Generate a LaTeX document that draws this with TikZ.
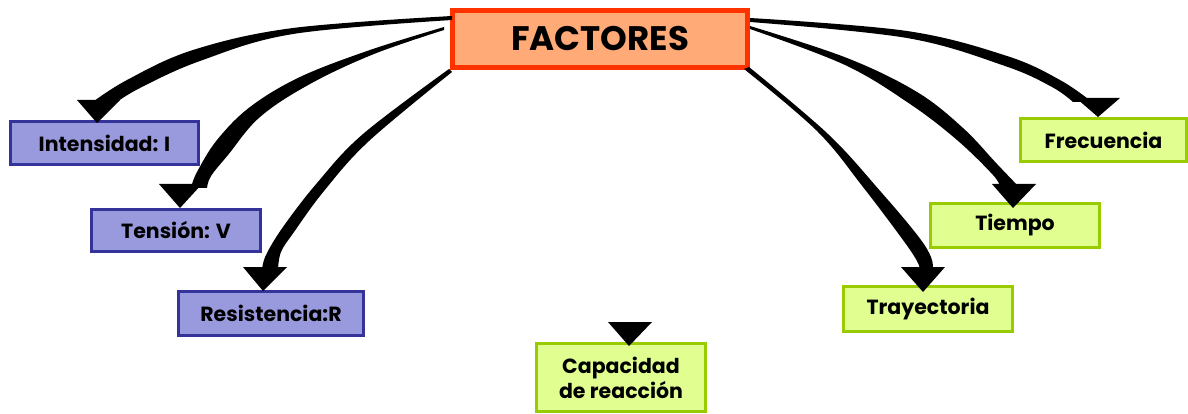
\documentclass[tikz,border=0pt]{standalone}
\usepackage{fontspec}
\setmainfont{Poppins}
\definecolor{salmon}{HTML}{FFAA77}
\definecolor{redb}{HTML}{FF3300}
\definecolor{bluef}{HTML}{9999DD}
\definecolor{blueb}{HTML}{333399}
\definecolor{greenf}{HTML}{E0FF90}
\definecolor{greenb}{HTML}{99CC00}
\tikzset{
  mainbox/.style={draw=redb, fill=salmon, line width=5pt, minimum width=295pt, minimum height=57pt, inner sep=0pt, font=\fontsize{34}{38}\selectfont\bfseries},
  bluebox/.style={draw=blueb, fill=bluef, line width=3pt, inner sep=0pt, font=\fontsize{20.5}{24}\selectfont\bfseries},
  greenbox/.style={draw=greenb, fill=greenf, line width=3.5pt, inner sep=0pt, align=center, font=\fontsize{20.5}{25}\selectfont\bfseries},
  stroke/.style={fill=black},
  head/.style={fill=black}
}
\begin{document}
\begin{tikzpicture}[x=1pt,y=-1pt]
\useasboundingbox (0,0) rectangle (1188,414);
% nodes
\node[mainbox] (fac) at (600,39) {FACTORES};
\node[bluebox, minimum width=188pt, minimum height=43pt] (int) at (104.5,143) {Intensidad: I};
\node[bluebox, minimum width=169pt, minimum height=42pt] (ten) at (176,230.5) {Tensión: V};
\node[bluebox, minimum width=185pt, minimum height=44pt] (res) at (271,313.5) {Resistencia:R};
\node[greenbox, minimum width=166pt, minimum height=43pt] (fre) at (1103.5,140) {Frecuencia};
\node[greenbox, minimum width=169pt, minimum height=44pt] (tie) at (1015,225.5) {Tiempo};
\node[greenbox, minimum width=169pt, minimum height=45pt] (tra) at (928,309) {Trayectoria};
\node[greenbox, minimum width=169pt, minimum height=68pt] (cap) at (621,377.5) {Capacidad\\de reacción};
% tapered strokes
\fill[stroke] plot[smooth, tension=0.6] coordinates {(452,16) (293,28) (193,50) (127,80) (90,104)}
  -- plot[smooth, tension=0.6] coordinates {(114,104) (140,88) (200,61) (293,34) (452,20)} -- cycle;
\fill[stroke] plot[smooth, tension=0.6] coordinates {(444,27) (370,50) (300,77) (250,107) (217,140) (197,172) (191,188)}
  -- plot[smooth, tension=0.6] coordinates {(207,188) (211,176) (228,155) (260,117) (310,84) (374,54) (444,30)} -- cycle;
\fill[stroke] plot[smooth, tension=0.6] coordinates {(449,69) (363,134) (317,183) (283,227) (266,255) (262,270)}
  -- plot[smooth, tension=0.6] coordinates {(278,270) (281,252) (294,232) (324,191) (369,141) (452,72)} -- cycle;
\fill[stroke] plot[smooth, tension=0.6] coordinates {(750,18) (907,31) (1007,56) (1060,80) (1092,102)}
  -- plot[smooth, tension=0.6] coordinates {(1073,102) (1052,87) (1005,66) (907,38) (750,22)} -- cycle;
\fill[stroke] plot[smooth, tension=0.6] coordinates {(750,26) (847,58) (917,92) (963,128) (997,164) (1019,187)}
  -- plot[smooth, tension=0.6] coordinates {(1000,187) (993,175) (957,140) (910,104) (845,65) (750,29)} -- cycle;
\fill[stroke] plot[smooth, tension=0.6] coordinates {(744,69) (817,131) (863,187) (903,240) (917,261) (920,270)}
  -- plot[smooth, tension=0.6] coordinates {(933,270) (931,257) (918,236) (881,192) (828,134) (749,67)} -- cycle;
% arrowheads
\fill[head] (77,100) -- (120,100) -- (97,123) -- cycle;
\fill[head] (159,184) -- (202,184) -- (180,208) -- cycle;
\fill[head] (243,267) -- (287,267) -- (263,291) -- cycle;
\fill[head] (608,322) -- (652,322) -- (629,346) -- cycle;
\fill[head] (1076,98) -- (1120,98) -- (1098,117) -- cycle;
\fill[head] (992,184) -- (1036,184) -- (1013,208) -- cycle;
\fill[head] (901,267) -- (945,267) -- (923,292) -- cycle;
\end{tikzpicture}
\end{document}
